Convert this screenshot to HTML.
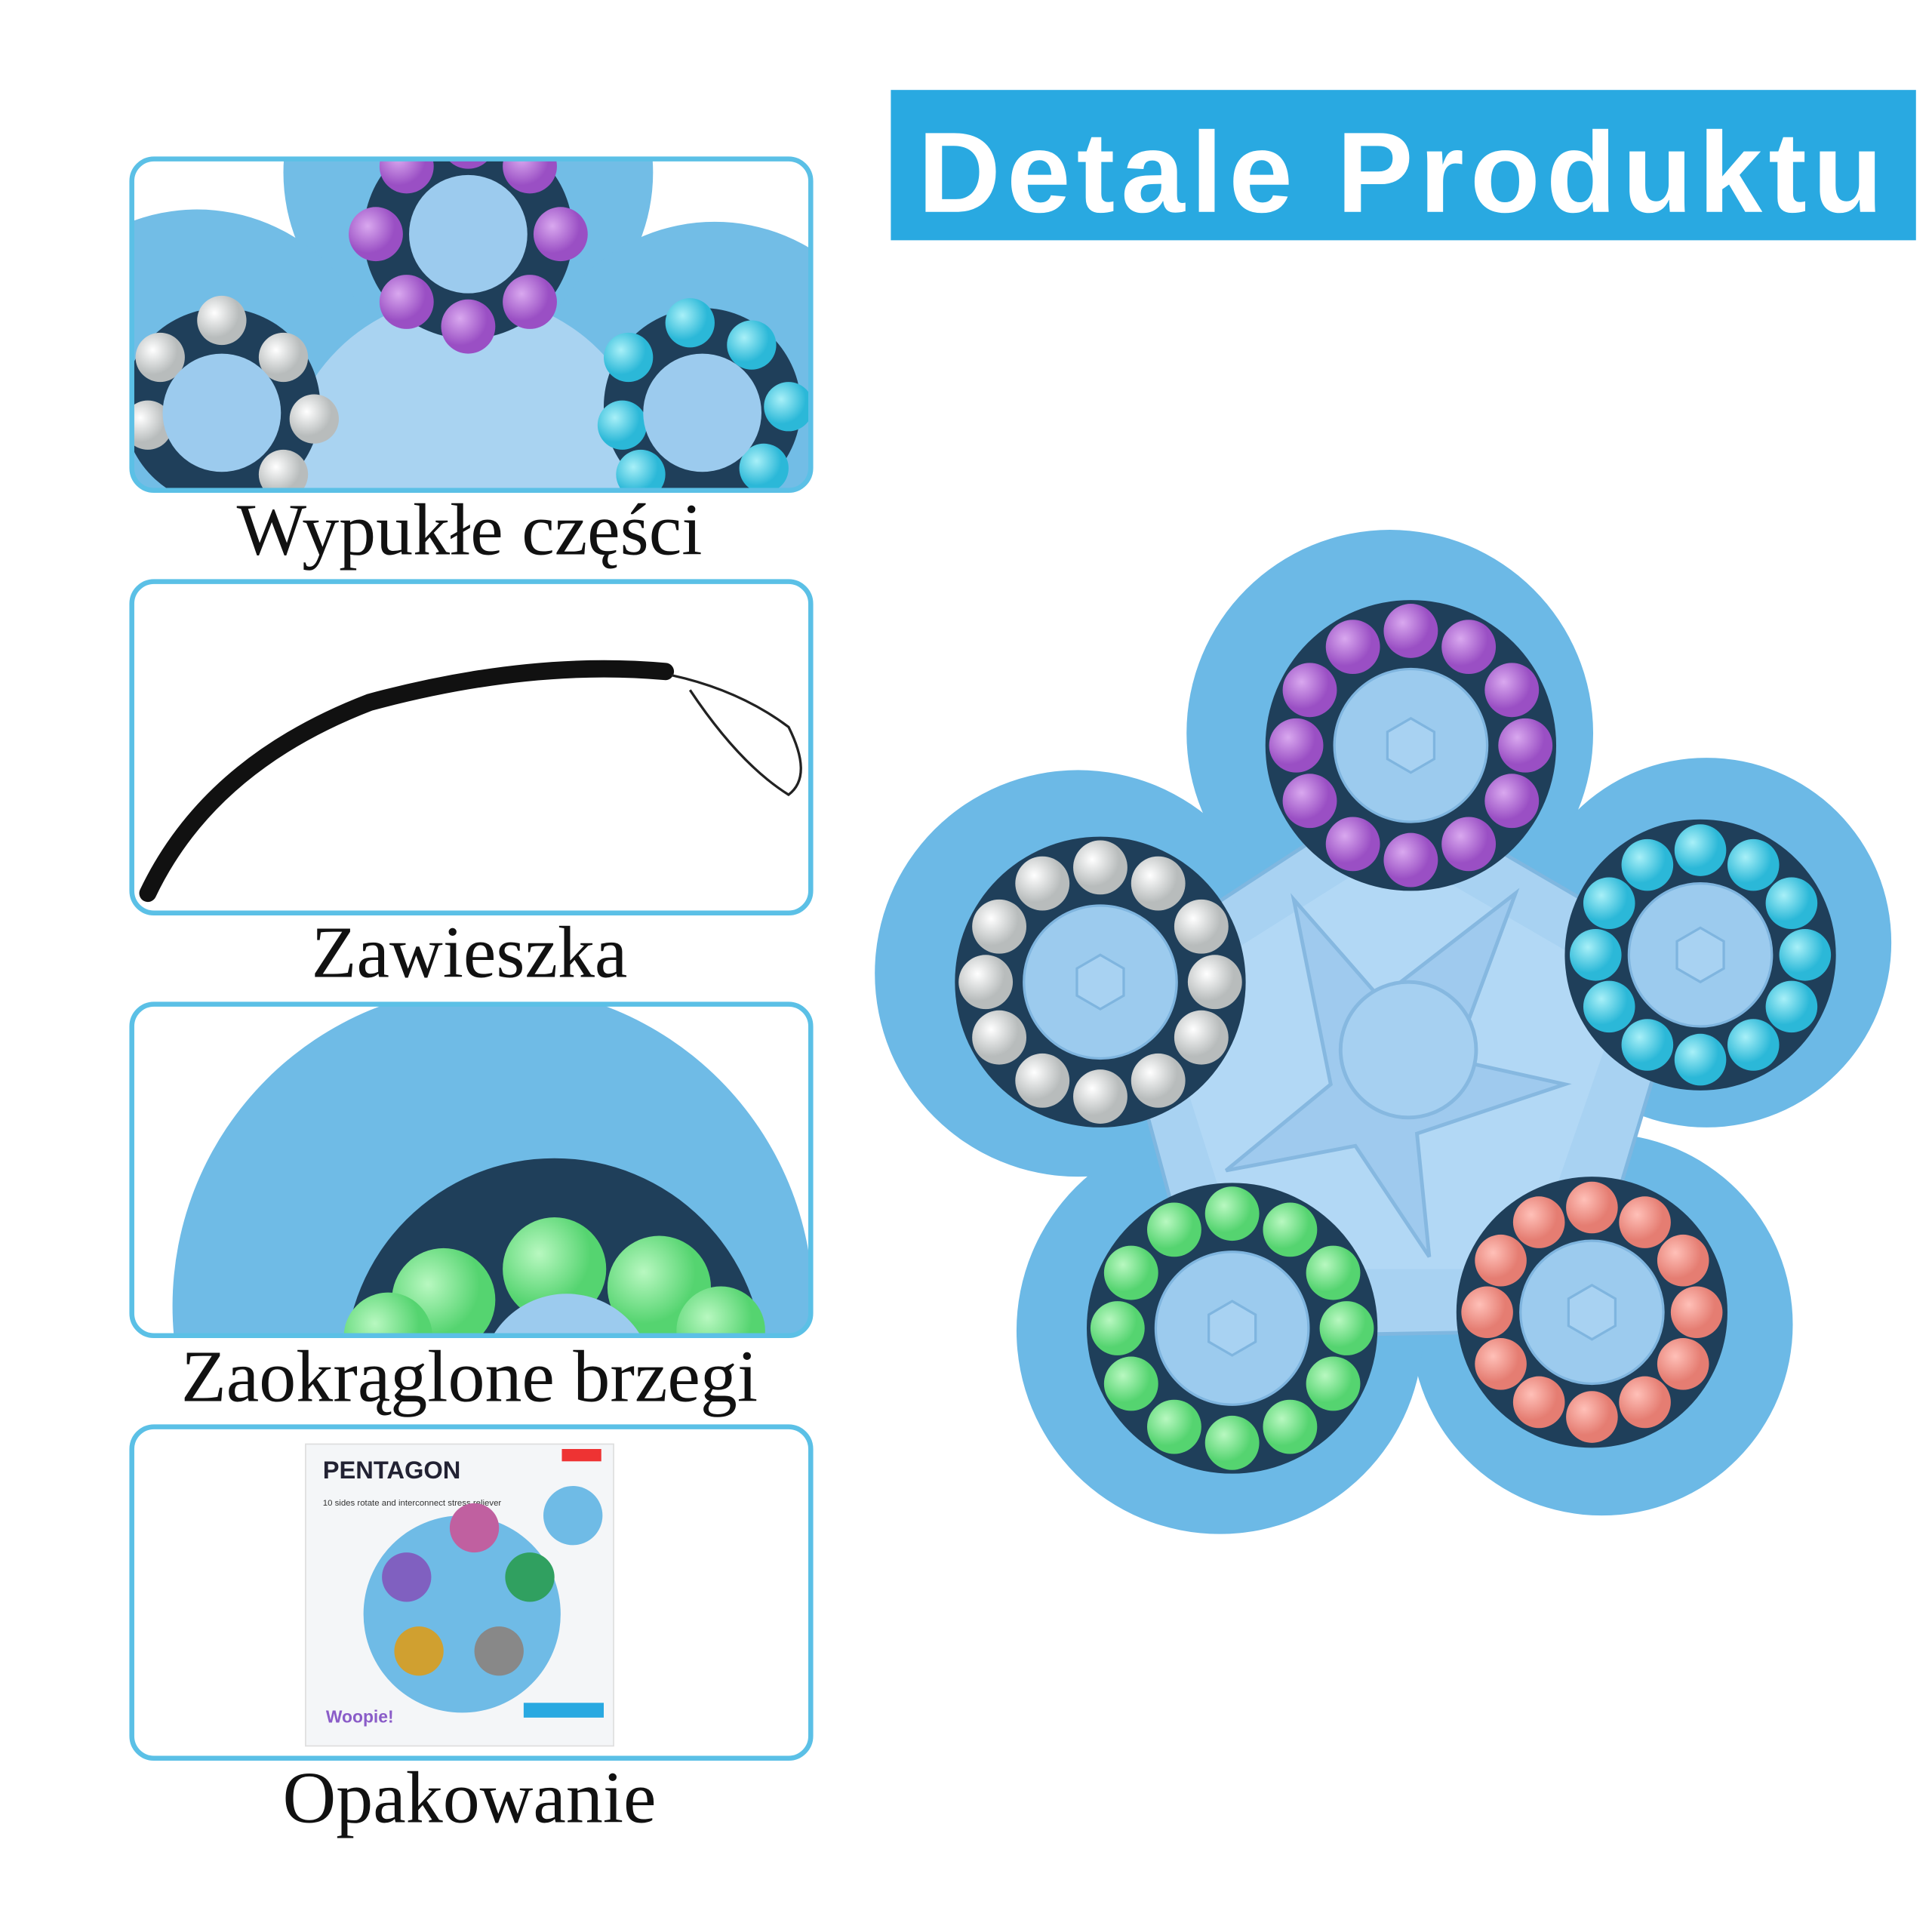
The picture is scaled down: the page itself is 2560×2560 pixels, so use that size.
<!DOCTYPE html>
<html><head><meta charset="utf-8"><style>
html,body{margin:0;padding:0;background:#fff;width:2560px;height:2560px;overflow:hidden}
svg{display:block}
</style></head><body>
<svg width="2560" height="2560" viewBox="0 0 1568 1568" xmlns="http://www.w3.org/2000/svg">
<defs>
<radialGradient id="gP" cx="35%" cy="35%"><stop offset="0" stop-color="#d9a8ef"/><stop offset="1" stop-color="#9a4fc4"/></radialGradient>
<radialGradient id="gC" cx="35%" cy="35%"><stop offset="0" stop-color="#a8f0f8"/><stop offset="1" stop-color="#2bb8d8"/></radialGradient>
<radialGradient id="gR" cx="35%" cy="35%"><stop offset="0" stop-color="#ffc0b8"/><stop offset="1" stop-color="#e57d72"/></radialGradient>
<radialGradient id="gG" cx="35%" cy="35%"><stop offset="0" stop-color="#b8f8c0"/><stop offset="1" stop-color="#55d470"/></radialGradient>
<radialGradient id="gW" cx="35%" cy="35%"><stop offset="0" stop-color="#ffffff"/><stop offset="1" stop-color="#b8bcbc"/></radialGradient>
<clipPath id="c1"><rect x="107" y="129" width="551" height="269" rx="18"/></clipPath>
<clipPath id="c3"><rect x="107" y="815" width="551" height="269" rx="18"/></clipPath>
</defs>
<!-- title -->
<rect x="723" y="73" width="832" height="122" fill="#29a9e1"/>
<text x="1139" y="172" text-anchor="middle" font-family="Liberation Sans, sans-serif" font-weight="bold" font-size="93" letter-spacing="5" fill="#fff">Detale Produktu</text>

<!-- panel 1 -->
<g clip-path="url(#c1)">
<rect x="107" y="129" width="551" height="269" fill="#fff"/>
<circle cx="380" cy="140" r="150" fill="#72bde6"/>
<circle cx="160" cy="320" r="150" fill="#72bde6"/>
<circle cx="580" cy="330" r="150" fill="#72bde6"/>
<circle cx="380" cy="390" r="150" fill="#a9d3f1"/>
<circle cx="380" cy="190" r="85" fill="#1f3f5a"/>
<g fill="url(#gP)">
<circle cx="380" cy="115" r="22"/><circle cx="430" cy="135" r="22"/><circle cx="455" cy="190" r="22"/><circle cx="430" cy="245" r="22"/><circle cx="380" cy="265" r="22"/><circle cx="330" cy="245" r="22"/><circle cx="305" cy="190" r="22"/><circle cx="330" cy="135" r="22"/></g>
<circle cx="380" cy="190" r="48" fill="#9ccbee"/>
<circle cx="180" cy="330" r="80" fill="#1f3f5a"/>
<g fill="url(#gW)"><circle cx="130" cy="290" r="20"/><circle cx="180" cy="260" r="20"/><circle cx="230" cy="290" r="20"/><circle cx="255" cy="340" r="20"/><circle cx="230" cy="385" r="20"/><circle cx="120" cy="345" r="20"/></g>
<circle cx="180" cy="335" r="48" fill="#9ccbee"/>
<circle cx="570" cy="330" r="80" fill="#1f3f5a"/>
<g fill="url(#gC)"><circle cx="510" cy="290" r="20"/><circle cx="560" cy="262" r="20"/><circle cx="610" cy="280" r="20"/><circle cx="640" cy="330" r="20"/><circle cx="620" cy="380" r="20"/><circle cx="505" cy="345" r="20"/><circle cx="520" cy="385" r="20"/></g>
<circle cx="570" cy="335" r="48" fill="#9ccbee"/>
</g>
<rect x="107" y="129" width="551" height="269" rx="18" fill="none" stroke="#5bc0e6" stroke-width="4"/>
<text x="381" y="450" text-anchor="middle" font-family="Liberation Serif, serif" font-size="60" fill="#111">Wypukłe części</text>

<!-- panel 2 -->
<rect x="107" y="472" width="551" height="269" rx="18" fill="#fff" stroke="#5bc0e6" stroke-width="4"/>
<path d="M120 725 Q170 620 300 570 Q430 535 540 545" fill="none" stroke="#111" stroke-width="14" stroke-linecap="round"/>
<path d="M545 548 Q600 560 640 590 Q660 630 640 645 Q600 620 560 560" fill="none" stroke="#222" stroke-width="2"/>
<text x="381" y="793" text-anchor="middle" font-family="Liberation Serif, serif" font-size="60" fill="#111">Zawieszka</text>

<!-- panel 3 -->
<g clip-path="url(#c3)">
<rect x="107" y="815" width="551" height="269" fill="#fff"/>
<circle cx="400" cy="1060" r="260" fill="#6fbbe6"/>
<circle cx="450" cy="1110" r="170" fill="#1f3f5a"/>
<g fill="url(#gG)"><circle cx="360" cy="1055" r="42"/><circle cx="450" cy="1030" r="42"/><circle cx="535" cy="1045" r="42"/><circle cx="585" cy="1080" r="36"/><circle cx="315" cy="1085" r="36"/></g>
<circle cx="460" cy="1120" r="70" fill="#9ccbee"/>
</g>
<rect x="107" y="815" width="551" height="269" rx="18" fill="none" stroke="#5bc0e6" stroke-width="4"/>
<text x="381" y="1137" text-anchor="middle" font-family="Liberation Serif, serif" font-size="60" fill="#111">Zaokrąglone brzegi</text>

<!-- panel 4 -->
<rect x="107" y="1158" width="551" height="269" rx="18" fill="#fff" stroke="#5bc0e6" stroke-width="4"/>
<rect x="248" y="1172" width="250" height="245" fill="#f4f6f8" stroke="#ddd"/>
<text x="262" y="1200" font-family="Liberation Sans, sans-serif" font-weight="bold" font-size="20" fill="#223">PENTAGON</text>
<text x="262" y="1222" font-family="Liberation Sans, sans-serif" font-size="7" fill="#333">10 sides rotate and interconnect stress reliever</text>
<rect x="456" y="1176" width="32" height="10" fill="#e33"/>
<circle cx="465" cy="1230" r="24" fill="#6fbbe6"/>
<circle cx="375" cy="1310" r="80" fill="#6fbbe6"/>
<circle cx="385" cy="1240" r="20" fill="#c060a0"/><circle cx="330" cy="1280" r="20" fill="#8060c0"/><circle cx="430" cy="1280" r="20" fill="#30a060"/><circle cx="340" cy="1340" r="20" fill="#d0a030"/><circle cx="405" cy="1340" r="20" fill="#888"/>
<rect x="425" y="1382" width="65" height="12" fill="#29a9e1"/>
<text x="292" y="1398" text-anchor="middle" font-family="Liberation Sans, sans-serif" font-weight="bold" font-size="14" fill="#8a5cc8">Woopie!</text>
<text x="381" y="1479" text-anchor="middle" font-family="Liberation Serif, serif" font-size="60" fill="#111">Opakowanie</text>

<!-- main toy -->
<g>
<circle cx="1128" cy="595" r="165" fill="#6cb9e6"/>
<circle cx="1385" cy="765" r="150" fill="#6cb9e6"/>
<circle cx="1300" cy="1075" r="155" fill="#6cb9e6"/>
<circle cx="990" cy="1080" r="165" fill="#6cb9e6"/>
<circle cx="875" cy="790" r="165" fill="#6cb9e6"/>
<polygon points="1130,640 1370,780 1280,1080 980,1085 900,790" fill="#a8d2f2" stroke="#7fb7e0" stroke-width="3"/>
<polygon points="1130,690 1320,800 1240,1030 1010,1030 940,810" fill="#b2d8f5"/>
<path d="M1050 730 L1120 810 L1230 725 L1180 860 L1270 880 L1150 920 L1160 1020 L1100 930 L995 950 L1080 880 Z" fill="#9fcaee" stroke="#86b8e0" stroke-width="3"/>
<circle cx="1143" cy="852" r="55" fill="#a6d0f1" stroke="#86b8e0" stroke-width="3"/>
</g>
<g>
<circle cx="1145" cy="605" r="118" fill="#1f3f5a"/>
<circle cx="1380" cy="775" r="110" fill="#1f3f5a"/>
<circle cx="1292" cy="1065" r="110" fill="#1f3f5a"/>
<circle cx="1000" cy="1078" r="118" fill="#1f3f5a"/>
<circle cx="893" cy="797" r="118" fill="#1f3f5a"/>
</g>
<g fill="url(#gP)">
<circle cx="1145" cy="512" r="22"/><circle cx="1192" cy="525" r="22"/><circle cx="1227" cy="560" r="22"/><circle cx="1238" cy="605" r="22"/><circle cx="1227" cy="650" r="22"/><circle cx="1192" cy="685" r="22"/><circle cx="1145" cy="698" r="22"/><circle cx="1098" cy="685" r="22"/><circle cx="1063" cy="650" r="22"/><circle cx="1052" cy="605" r="22"/><circle cx="1063" cy="560" r="22"/><circle cx="1098" cy="525" r="22"/>
</g>
<g fill="url(#gC)">
<circle cx="1380" cy="690" r="21"/><circle cx="1423" cy="702" r="21"/><circle cx="1454" cy="733" r="21"/><circle cx="1465" cy="775" r="21"/><circle cx="1454" cy="817" r="21"/><circle cx="1423" cy="848" r="21"/><circle cx="1380" cy="860" r="21"/><circle cx="1337" cy="848" r="21"/><circle cx="1306" cy="817" r="21"/><circle cx="1295" cy="775" r="21"/><circle cx="1306" cy="733" r="21"/><circle cx="1337" cy="702" r="21"/>
</g>
<g fill="url(#gR)">
<circle cx="1292" cy="980" r="21"/><circle cx="1335" cy="992" r="21"/><circle cx="1366" cy="1023" r="21"/><circle cx="1377" cy="1065" r="21"/><circle cx="1366" cy="1107" r="21"/><circle cx="1335" cy="1138" r="21"/><circle cx="1292" cy="1150" r="21"/><circle cx="1249" cy="1138" r="21"/><circle cx="1218" cy="1107" r="21"/><circle cx="1207" cy="1065" r="21"/><circle cx="1218" cy="1023" r="21"/><circle cx="1249" cy="992" r="21"/>
</g>
<g fill="url(#gG)">
<circle cx="1000" cy="985" r="22"/><circle cx="1047" cy="998" r="22"/><circle cx="1082" cy="1033" r="22"/><circle cx="1093" cy="1078" r="22"/><circle cx="1082" cy="1123" r="22"/><circle cx="1047" cy="1158" r="22"/><circle cx="1000" cy="1171" r="22"/><circle cx="953" cy="1158" r="22"/><circle cx="918" cy="1123" r="22"/><circle cx="907" cy="1078" r="22"/><circle cx="918" cy="1033" r="22"/><circle cx="953" cy="998" r="22"/>
</g>
<g fill="url(#gW)">
<circle cx="893" cy="704" r="22"/><circle cx="940" cy="717" r="22"/><circle cx="975" cy="752" r="22"/><circle cx="986" cy="797" r="22"/><circle cx="975" cy="842" r="22"/><circle cx="940" cy="877" r="22"/><circle cx="893" cy="890" r="22"/><circle cx="846" cy="877" r="22"/><circle cx="811" cy="842" r="22"/><circle cx="800" cy="797" r="22"/><circle cx="811" cy="752" r="22"/><circle cx="846" cy="717" r="22"/>
</g>
<g fill="#9ccbee" stroke="#7fb5df" stroke-width="2">
<circle cx="1145" cy="605" r="62"/><circle cx="1380" cy="775" r="58"/><circle cx="1292" cy="1065" r="58"/><circle cx="1000" cy="1078" r="62"/><circle cx="893" cy="797" r="62"/>
</g>
<g fill="#a8d2f2" stroke="#7fb5df" stroke-width="2">
<polygon points="1145,583 1164,594 1164,616 1145,627 1126,616 1126,594"/>
<polygon points="1380,753 1399,764 1399,786 1380,797 1361,786 1361,764"/>
<polygon points="1292,1043 1311,1054 1311,1076 1292,1087 1273,1076 1273,1054"/>
<polygon points="1000,1056 1019,1067 1019,1089 1000,1100 981,1089 981,1067"/>
<polygon points="893,775 912,786 912,808 893,819 874,808 874,786"/>
</g>
</svg>
</body></html>
